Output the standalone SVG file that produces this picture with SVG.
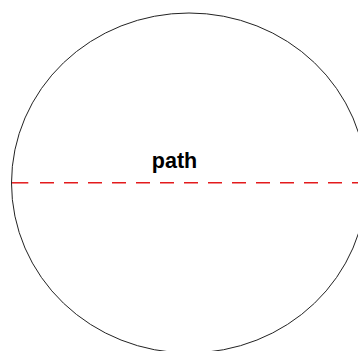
<svg xmlns="http://www.w3.org/2000/svg" width="358" height="351" viewBox="0 0 358 351">
<style>
.outline{fill:none;stroke:#222;stroke-width:1}
.diam{stroke:#e31a1c;stroke-width:1.5;stroke-dasharray:14 10}
.label{font-family:"Liberation Sans",Arial,sans-serif;font-weight:bold;font-size:21.5px;fill:#000}
</style>
<rect width="358" height="351" fill="#fff"/>
<g id="shape">
<ellipse class="outline" cx="189" cy="183" rx="177.5" ry="170"/>
</g>
<g id="connectors">
<line class="diam" x1="12" y1="182.8" x2="28.3" y2="182.8" style="stroke-dasharray:none"/>
<line class="diam" x1="40" y1="182.8" x2="366" y2="182.8"/>
</g>
<g id="label-path">
<text class="label" x="174.5" y="168" text-anchor="middle">path</text>
</g>
</svg>
